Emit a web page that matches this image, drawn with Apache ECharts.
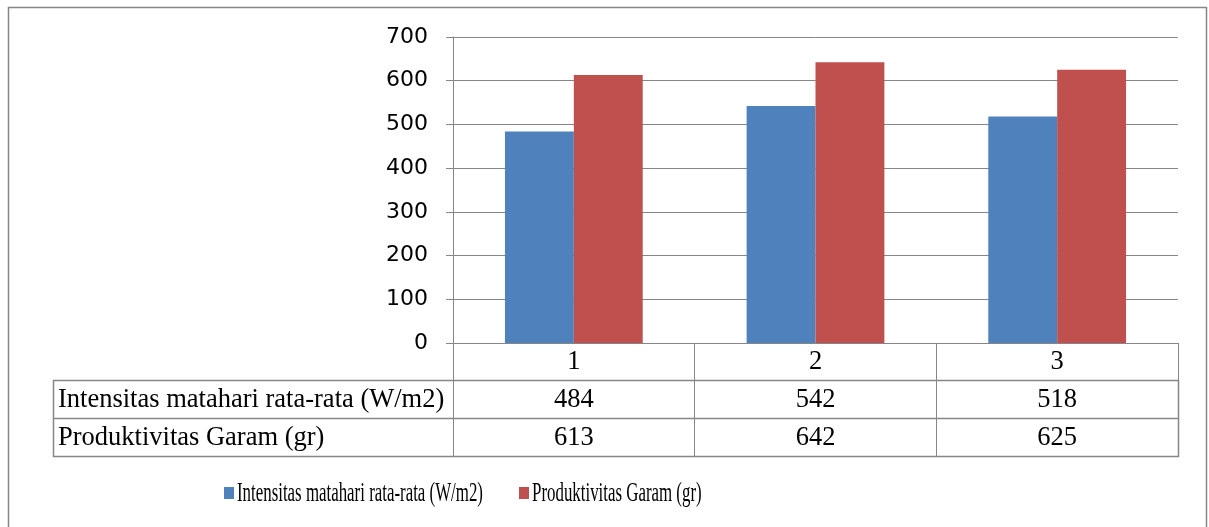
<!DOCTYPE html>
<html>
<head>
<meta charset="utf-8">
<script src="https://cdn.jsdelivr.net/npm/echarts@6/dist/echarts.min.js"></script>
<style>
html,body{margin:0;padding:0;background:#fff;}
#chart{width:1209px;height:527px;}
</style>
</head>
<body>
<div id="chart"></div>
<script>
const categories = ['1', '2', '3'];
const seriesNames = ['Intensitas matahari rata-rata (W/m2)', 'Produktivitas Garam (gr)'];
const intensitas = [484, 542, 518];
const produktivitas = [613, 642, 625];
const yTicks = [0, 100, 200, 300, 400, 500, 600, 700];
const colors = ['#4F81BD', '#C0504D'];

const gray = '#868686';
const serif = '"Liberation Serif", "Times New Roman", serif';
const chart = echarts.init(document.getElementById('chart'), null, {renderer: 'canvas'});

const option = {
  animation: false,
  backgroundColor: '#fff',
  grid: {left: 453, right: 31, top: 37, bottom: 184, containLabel: false},
  xAxis: {
    type: 'category',
    data: categories,
    axisLine: {show: true, lineStyle: {color: gray, width: 1}},
    axisTick: {show: true, length: 113, inside: false, alignWithLabel: false, lineStyle: {color: gray, width: 1}},
    axisLabel: {
      margin: 0,
      interval: 0,
      formatter: function (v, i) {
        return '{c|' + v + '}\n{v|' + intensitas[i] + '}\n{v|' + produktivitas[i] + '}';
      },
      rich: {
        c: {fontFamily: serif, fontSize: 26.5, lineHeight: 38, color: '#000'},
        v: {fontFamily: serif, fontSize: 26.5, lineHeight: 38, color: '#000'}
      }
    }
  },
  yAxis: {
    type: 'value',
    min: yTicks[0],
    max: yTicks[yTicks.length - 1],
    interval: 100,
    axisLine: {show: true, lineStyle: {color: gray, width: 1}},
    axisTick: {show: true, length: 7, inside: false, lineStyle: {color: gray, width: 1}},
    splitLine: {show: true, lineStyle: {color: gray, width: 1}},
    axisLabel: {margin: 25, fontFamily: '"DejaVu Sans", sans-serif', fontSize: 22, color: '#000'}
  },
  series: [
    {name: seriesNames[0], type: 'bar', data: intensitas, itemStyle: {color: colors[0]}, barGap: '0%', barCategoryGap: '43%'},
    {name: seriesNames[1], type: 'bar', data: produktivitas, itemStyle: {color: colors[1]}, barGap: '0%', barCategoryGap: '43%'}
  ],
  graphic: [
    {type: 'rect', shape: {x: 8.5, y: 7.5, width: 1198, height: 540}, style: {fill: 'none', stroke: gray, lineWidth: 1.5}, silent: true},
    {type: 'rect', shape: {x: 53.5, y: 380.5, width: 1125, height: 76}, style: {fill: 'none', stroke: gray, lineWidth: 1.5}, silent: true},
    {type: 'line', shape: {x1: 53.5, y1: 418.5, x2: 1178.5, y2: 418.5}, style: {stroke: gray, lineWidth: 1.5}, silent: true},
    {type: 'text', x: 58, y: 400, style: {text: seriesNames[0], font: '26.5px ' + serif, fill: '#000', verticalAlign: 'middle', align: 'left'}, silent: true},
    {type: 'text', x: 58, y: 438, style: {text: seriesNames[1], font: '26.5px ' + serif, fill: '#000', verticalAlign: 'middle', align: 'left'}, silent: true},
    {type: 'rect', shape: {x: 224, y: 487, width: 10, height: 12}, style: {fill: colors[0]}, silent: true},
    {type: 'text', x: 237, y: 494, scaleX: 0.625, style: {text: seriesNames[0], font: '27px ' + serif, fill: '#000', verticalAlign: 'middle', align: 'left'}, silent: true},
    {type: 'rect', shape: {x: 519, y: 487, width: 10, height: 12}, style: {fill: colors[1]}, silent: true},
    {type: 'text', x: 532, y: 494, scaleX: 0.625, style: {text: seriesNames[1], font: '27px ' + serif, fill: '#000', verticalAlign: 'middle', align: 'left'}, silent: true}
  ]
};
chart.setOption(option);
</script>
</body>
</html>
